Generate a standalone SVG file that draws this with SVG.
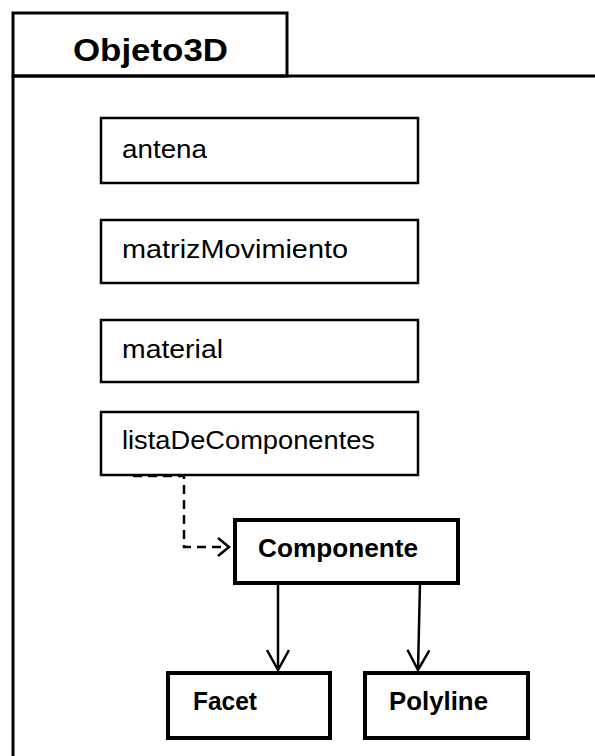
<svg xmlns="http://www.w3.org/2000/svg" width="595" height="756" viewBox="0 0 595 756">
<style>
.frame{fill:none;stroke:#000;stroke-width:3}
.attr{fill:#fff;stroke:#000;stroke-width:2.5}
.cls{fill:#fff;stroke:#000;stroke-width:4}
.t{font-family:"Liberation Sans",Arial,sans-serif;font-size:26px;fill:#000}
.b{font-family:"Liberation Sans",Arial,sans-serif;font-size:26px;font-weight:bold;fill:#000}
.conn{fill:none;stroke:#000;stroke-width:2.5}
</style>
<defs>
<marker id="open" markerWidth="14" markerHeight="20" refX="12" refY="10" orient="auto" markerUnits="userSpaceOnUse">
<path d="M1,1 L12,10 L1,19" fill="none" stroke="#000" stroke-width="2.5"/>
</marker>
<marker id="openDown" markerWidth="26" markerHeight="24" refX="21" refY="12" orient="auto" markerUnits="userSpaceOnUse">
<path d="M1,1 L21,12 L1,23" fill="none" stroke="#000" stroke-width="2.5"/>
</marker>
</defs>
<rect width="595" height="756" fill="#fff"/>
<g id="objeto3d">
<rect class="frame" x="13" y="13" width="274" height="63"/>
<path class="frame" d="M13,76 L13,756 M13,76 L595,76"/>
<text class="b" x="73" y="61" font-size="32" style="font-size:32px" textLength="155" lengthAdjust="spacingAndGlyphs">Objeto3D</text>
</g>
<g id="antena">
<rect class="attr" x="101" y="118" width="317" height="65"/>
<text class="t" x="122" y="158" textLength="85" lengthAdjust="spacingAndGlyphs">antena</text>
</g>
<g id="matrizMovimiento">
<rect class="attr" x="101" y="220" width="317" height="63"/>
<text class="t" x="122" y="258" textLength="226" lengthAdjust="spacingAndGlyphs">matrizMovimiento</text>
</g>
<g id="material">
<rect class="attr" x="101" y="320" width="317" height="62"/>
<text class="t" x="122" y="358" textLength="101" lengthAdjust="spacingAndGlyphs">material</text>
</g>
<g id="listaDeComponentes">
<rect class="attr" x="101" y="412" width="317" height="63"/>
<text class="t" x="122" y="449" textLength="253" lengthAdjust="spacingAndGlyphs">listaDeComponentes</text>
</g>
<g id="componente">
<rect class="cls" x="235" y="520" width="223" height="63"/>
<text class="b" x="258" y="557" textLength="160" lengthAdjust="spacingAndGlyphs">Componente</text>
</g>
<g id="facet">
<rect class="cls" x="168" y="673" width="162" height="65"/>
<text class="b" x="193" y="710" textLength="64" lengthAdjust="spacingAndGlyphs">Facet</text>
</g>
<g id="polyline">
<rect class="cls" x="365" y="673" width="163" height="65"/>
<text class="b" x="389" y="710" textLength="99" lengthAdjust="spacingAndGlyphs">Polyline</text>
</g>
<g id="connectors">
<path class="conn" d="M133,476 L184,476 L184,547 L229,547" stroke-dasharray="9,6" marker-end="url(#open)"/>
<path class="conn" d="M278,583 L278,670" marker-end="url(#openDown)"/>
<path class="conn" d="M420,583 L418,670" marker-end="url(#openDown)"/>
</g>
</svg>
